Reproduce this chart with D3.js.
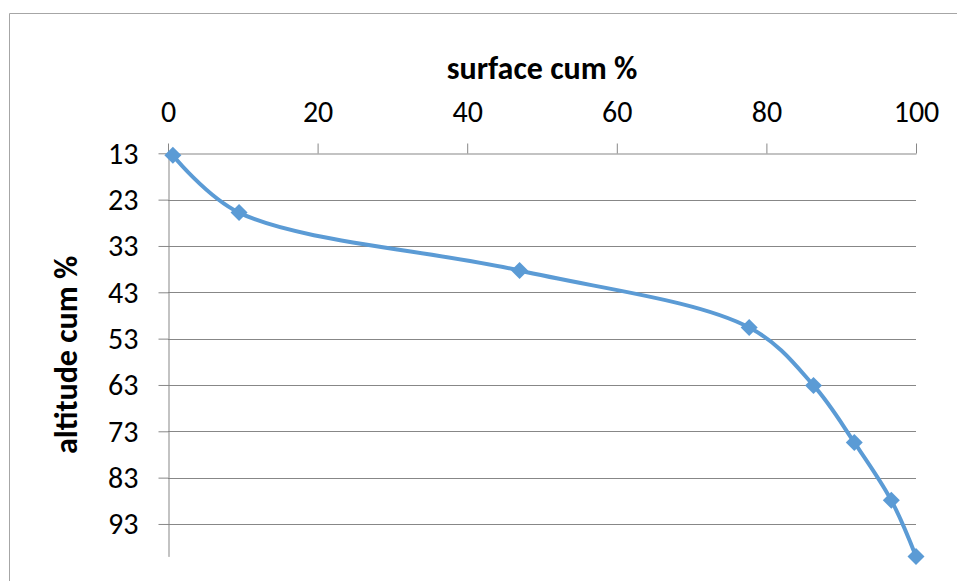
<!DOCTYPE html>
<html><head><meta charset="utf-8">
<script src="https://cdn.jsdelivr.net/npm/d3@7"></script>
<style>body{margin:0;background:#fff}svg{display:block}text{font-family:Carlito,Calibri,Lato,"Open Sans",sans-serif}</style>
</head><body>
<svg id="c" width="957" height="581"></svg>
<script>
const surface = [0.65, 9.5, 47.0, 77.7, 86.3, 91.75, 96.7, 100];
const altitude = [13.4, 25.8, 38.3, 50.6, 63.1, 75.4, 87.9, 100];
const xTicks = [0, 20, 40, 60, 80, 100];
const yTicks = [13, 23, 33, 43, 53, 63, 73, 83, 93];
const xTitle = "surface cum %";
const yTitle = "altitude cum %";

const svg = d3.select("#c");
const L = 168, R = 916, T = 153.3, B = 556.4;
const x = d3.scaleLinear().domain([0, 100]).range([L, R]);
const y = d3.scaleLinear().domain([13, 100]).range([T, B]);
const grid = "#878787";
const tickFont = 30, titleFont = 32;

// chart border
svg.append("path").attr("d", `M9.5,581 V13.5 H957`).attr("fill","none").attr("stroke","#a6a6a6").attr("stroke-width",1);

// horizontal gridlines
svg.append("g").selectAll("line").data(yTicks.slice(1)).join("line")
  .attr("x1", L).attr("x2", R).attr("y1", d => Math.round(y(d))+0.5).attr("y2", d => Math.round(y(d))+0.5)
  .attr("stroke", grid).attr("stroke-width", 1);

// y axis
const ya = svg.append("g").attr("transform", `translate(${L+0.5},0)`)
  .call(d3.axisLeft(y).tickValues(yTicks).tickSize(10).tickSizeOuter(0).tickPadding(20));
ya.select(".domain").attr("stroke", grid);
ya.selectAll(".tick line").attr("stroke", grid);
ya.selectAll(".tick text").attr("font-size", tickFont).attr("fill", "#000").attr("dy", "0.33em");

// x axis on top
const xa = svg.append("g").attr("transform", `translate(0,${Math.round(T)+0.5})`)
  .call(d3.axisTop(x).tickValues(xTicks).tickSize(10).tickSizeOuter(0).tickPadding(22));
xa.select(".domain").attr("stroke", grid);
xa.selectAll(".tick line").attr("stroke", grid);
xa.selectAll(".tick text").attr("font-size", tickFont).attr("fill", "#000");

// titles
svg.append("text").attr("x", (L+R)/2).attr("y", 79).attr("text-anchor","middle")
  .attr("font-size", titleFont).attr("font-weight","bold").text(xTitle);
svg.append("text").attr("transform", `translate(77,${(T+B)/2}) rotate(-90)`).attr("text-anchor","middle")
  .attr("font-size", titleFont).attr("font-weight","bold").text(yTitle);

// series
const pts = surface.map((s, i) => [s, altitude[i]]);
const line = d3.line().x(d => x(d[0])).y(d => y(d[1])).curve(d3.curveCatmullRom.alpha(0.5));
svg.append("path").datum(pts).attr("d", line).attr("fill","none")
  .attr("stroke","#5b9bd5").attr("stroke-width",4).attr("stroke-linejoin","round");
svg.append("g").selectAll("rect").data(pts).join("rect")
  .attr("x", -6).attr("y", -6).attr("width", 12).attr("height", 12)
  .attr("transform", d => `translate(${x(d[0])},${y(d[1])}) rotate(45)`)
  .attr("fill","#5b9bd5");
</script>
</body></html>
